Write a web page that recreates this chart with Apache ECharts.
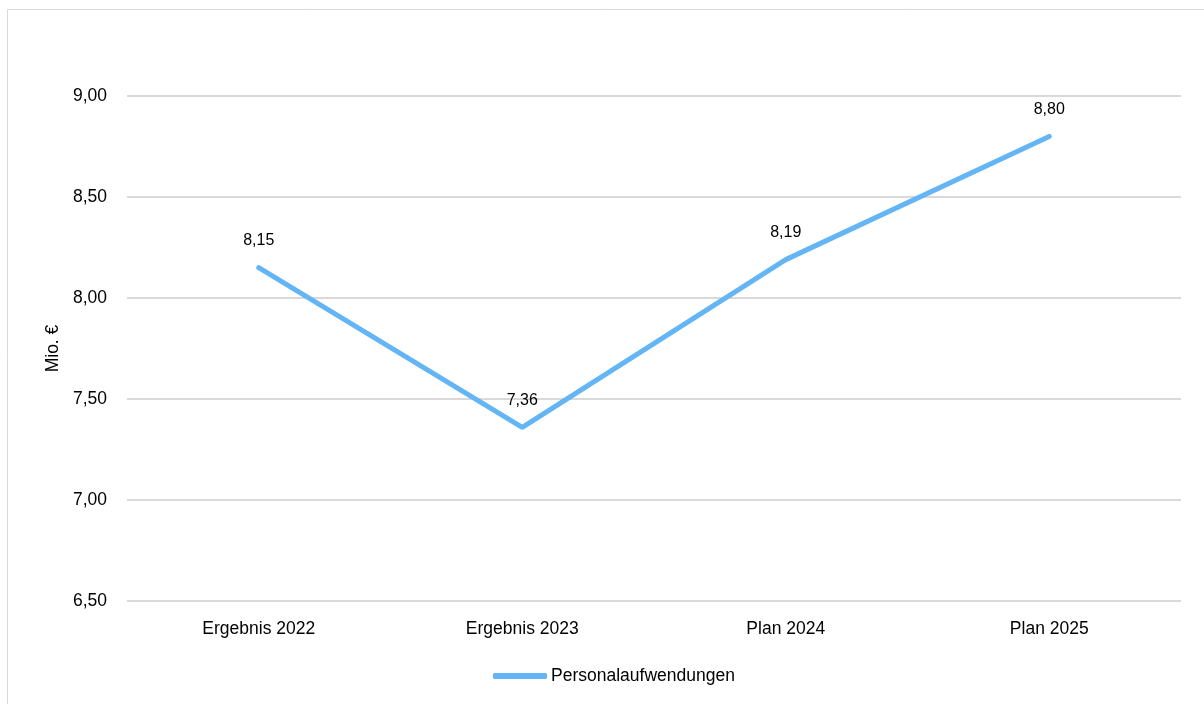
<!DOCTYPE html>
<html>
<head>
<meta charset="utf-8">
<script src="https://cdn.jsdelivr.net/npm/echarts@6/dist/echarts.min.js"></script>
<style>html,body{margin:0;padding:0;background:#fff;}#c{width:1204px;height:704px;}</style>
</head>
<body>
<div id="c"></div>
<script>
const categories = ['Ergebnis 2022', 'Ergebnis 2023', 'Plan 2024', 'Plan 2025'];
const seriesName = 'Personalaufwendungen';
const values = [8.15, 7.36, 8.19, 8.80];
const yAxisName = 'Mio. €';

const FONT = '"Liberation Sans Narrow", "Liberation Sans", Arial, sans-serif';
const fmt = v => v.toFixed(2).replace('.', ',');

const chart = echarts.init(document.getElementById('c'));
chart.setOption({
  backgroundColor: '#fff',
  animation: false,
  graphic: [{
    type: 'rect', shape: { x: 7.5, y: 9.5, width: 1210, height: 710 },
    style: { fill: 'none', stroke: '#d9d9d9', lineWidth: 1 }, z: -1
  }],
  grid: { left: 127, right: 23, top: 96, bottom: 103, containLabel: false },
  legend: {
    data: [{ name: seriesName, icon: 'roundRect' }], bottom: 14, left: 488,
    itemWidth: 54, itemHeight: 6,
    itemStyle: { color: '#64B5F6', opacity: 1, borderWidth: 0 },
    textStyle: { fontFamily: FONT, fontSize: 17.5, color: '#000', padding: [0, 0, 0, -1] }
  },
  xAxis: {
    type: 'category', data: categories, boundaryGap: true,
    axisLine: { show: false }, axisTick: { show: false },
    axisLabel: { color: '#000', fontFamily: FONT, fontSize: 17.5, margin: 19 }
  },
  yAxis: {
    type: 'value', min: 6.5, max: 9, interval: 0.5,
    name: yAxisName, nameLocation: 'middle', nameGap: 56, nameRotate: 90,
    nameTextStyle: { color: '#000', fontFamily: FONT, fontSize: 17.5 },
    axisLine: { show: false }, axisTick: { show: false },
    axisLabel: { color: '#000', fontFamily: FONT, fontSize: 17.5, margin: 20, formatter: fmt },
    splitLine: { lineStyle: { color: '#d9d9d9', width: 2 } }
  },
  series: [{
    name: seriesName, type: 'line', data: values,
    symbol: 'circle', symbolSize: 0.1, showSymbol: true,
    lineStyle: { color: '#64B5F6', width: 5, cap: 'round' },
    itemStyle: { color: '#64B5F6' },
    label: {
      show: true, position: 'top', distance: 19,
      color: '#000', fontFamily: FONT, fontSize: 16,
      formatter: p => fmt(p.value)
    }
  }]
});
</script>
</body>
</html>
